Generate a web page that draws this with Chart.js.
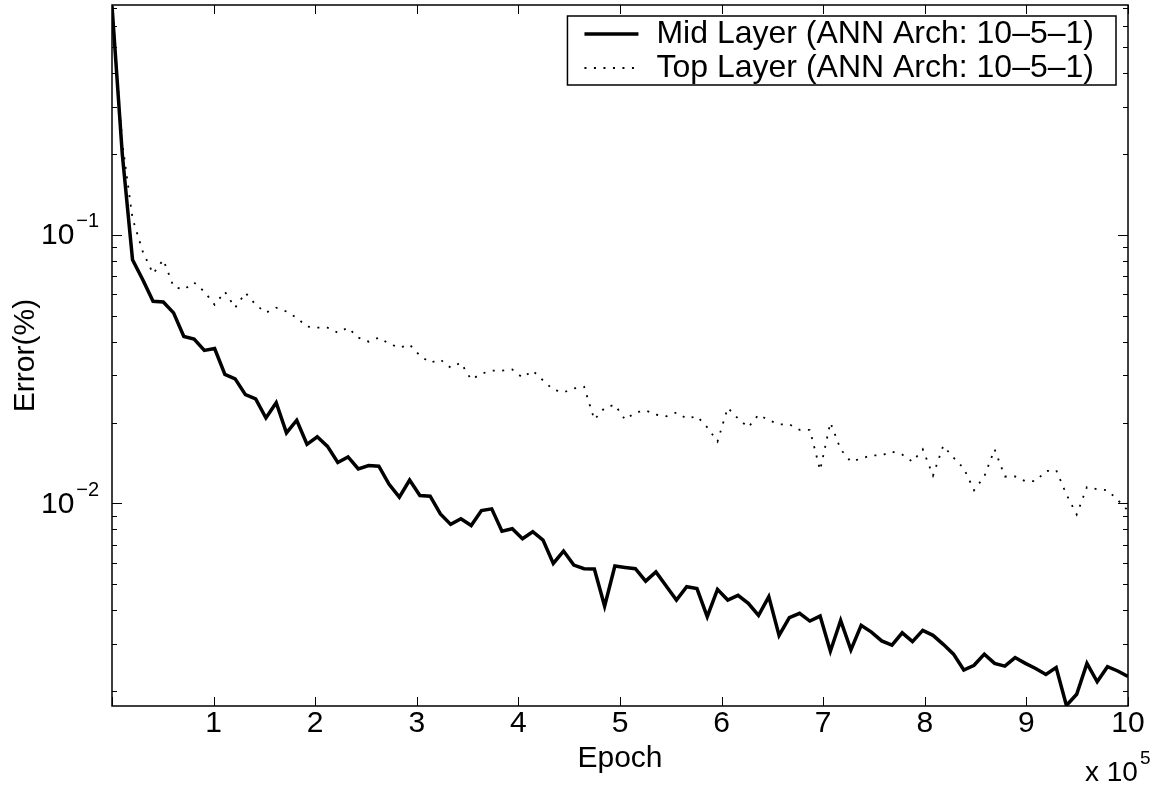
<!DOCTYPE html>
<html>
<head>
<meta charset="utf-8">
<script src="https://cdn.jsdelivr.net/npm/chart.js@4.4.0/dist/chart.umd.min.js"></script>
<style>
    html, body { margin: 0; padding: 0; background: #fff; }
</style>
</head>
<body>
<canvas id="errorChart" width="1151" height="786"></canvas>
<script>
// epochs (linspace 0 .. 1e6, 100 samples)
var epochs = [0, 10101, 20202, 30303, 40404, 50505, 60606, 70707, 80808, 90909,
    101010, 111111, 121212, 131313, 141414, 151515, 161616, 171717, 181818, 191919,
    202020, 212121, 222222, 232323, 242424, 252525, 262626, 272727, 282828, 292929,
    303030, 313131, 323232, 333333, 343434, 353535, 363636, 373737, 383838, 393939,
    404040, 414141, 424242, 434343, 444444, 454545, 464646, 474747, 484848, 494949,
    505051, 515152, 525253, 535354, 545455, 555556, 565657, 575758, 585859, 595960,
    606061, 616162, 626263, 636364, 646465, 656566, 666667, 676768, 686869, 696970,
    707071, 717172, 727273, 737374, 747475, 757576, 767677, 777778, 787879, 797980,
    808081, 818182, 828283, 838384, 848485, 858586, 868687, 878788, 888889, 898990,
    909091, 919192, 929293, 939394, 949495, 959596, 969697, 979798, 989899, 1000000];

var midLayerError = [0.71, 0.2, 0.0807, 0.068, 0.0565, 0.0562, 0.0512, 0.0418, 0.0409, 0.0371,
    0.0377, 0.0302, 0.0291, 0.0254, 0.0245, 0.0208, 0.0237, 0.0183, 0.0204, 0.0166,
    0.0177, 0.0163, 0.0142, 0.0149, 0.01345, 0.01384, 0.01376, 0.01178, 0.01055, 0.01222,
    0.01071, 0.01064, 0.00914, 0.00836, 0.00877, 0.00828, 0.00941, 0.00955, 0.00789, 0.00805,
    0.00739, 0.00785, 0.00731, 0.00598, 0.00665, 0.0059, 0.00572, 0.0057, 0.00415, 0.00585,
    0.00578, 0.00572, 0.00514, 0.00556, 0.00493, 0.00437, 0.0049, 0.00482, 0.00379, 0.00479,
    0.00437, 0.00455, 0.00425, 0.00383, 0.0045, 0.00323, 0.00376, 0.0039, 0.00365, 0.00381,
    0.00282, 0.00367, 0.00285, 0.00352, 0.00332, 0.00308, 0.00297, 0.0033, 0.00306, 0.00337,
    0.00323, 0.00299, 0.00275, 0.0024, 0.0025, 0.00275, 0.00254, 0.00248, 0.00267, 0.00254,
    0.00243, 0.00231, 0.00245, 0.00177, 0.00195, 0.00254, 0.00217, 0.00247, 0.00238, 0.00227];

var topLayerError = [0.71, 0.22, 0.115, 0.0865, 0.0716, 0.0807, 0.0641, 0.0625, 0.0664, 0.0614,
    0.0549, 0.0614, 0.0535, 0.0608, 0.0549, 0.0513, 0.0535, 0.0518, 0.0491, 0.0455,
    0.0451, 0.0451, 0.0432, 0.0451, 0.0414, 0.04, 0.0414, 0.0393, 0.038, 0.039,
    0.0355, 0.0334, 0.0343, 0.032, 0.0334, 0.0289, 0.0304, 0.0312, 0.0312, 0.0315,
    0.0294, 0.0312, 0.0287, 0.0265, 0.0259, 0.0268, 0.0272, 0.0205, 0.0227, 0.0233,
    0.0205, 0.0218, 0.0222, 0.0214, 0.0211, 0.0218, 0.0207, 0.0211, 0.0192, 0.017,
    0.0227, 0.0207, 0.0192, 0.0214, 0.0204, 0.0197, 0.0197, 0.0188, 0.0188, 0.0133,
    0.02, 0.0159, 0.0143, 0.0147, 0.0151, 0.0151, 0.0156, 0.0152, 0.0143, 0.0159,
    0.0127, 0.0164, 0.0148, 0.0135, 0.0112, 0.0126, 0.0159, 0.0126, 0.0126, 0.0121,
    0.0121, 0.0132, 0.0133, 0.0108, 0.0091, 0.0115, 0.0113, 0.0112, 0.0103, 0.0094];

var seriesLabels = ['Mid Layer (ANN Arch: 10\u20135\u20131)', 'Top Layer (ANN Arch: 10\u20135\u20131)'];
var xTickLabels = ['', '1', '2', '3', '4', '5', '6', '7', '8', '9', '10'];
var yTickValues = [0.002, 0.003, 0.004, 0.005, 0.006, 0.007, 0.008, 0.009,
    0.01, 0.02, 0.03, 0.04, 0.05, 0.06, 0.07, 0.08, 0.09,
    0.1, 0.2, 0.3, 0.4, 0.5, 0.6, 0.7];
var yMajorTicks = [0.01, 0.1];
var yMajorExponents = ['\u22122', '\u22121'];

var FONT = '"Liberation Sans", Arial, Helvetica, sans-serif';

function toPoints(values) {
    return values.map(function (v, i) {
        return { x: epochs[i], y: v };
    });
}

function strokeLine(ctx, x1, y1, x2, y2) {
    ctx.beginPath();
    ctx.moveTo(x1, y1);
    ctx.lineTo(x2, y2);
    ctx.stroke();
}

// MATLAB style box, inward ticks, superscript labels and boxed legend
var matlabAxes = {
    id: 'matlabAxes',
    afterDraw: function (chart) {
        var ctx = chart.ctx;
        var a = chart.chartArea;
        var xs = chart.scales.x;
        var ys = chart.scales.y;

        ctx.save();
        ctx.strokeStyle = '#000';
        ctx.lineWidth = 1;

        xs.ticks.forEach(function (t) {
            var px = Math.round(xs.getPixelForValue(t.value)) + 0.5;
            strokeLine(ctx, px, a.bottom, px, a.bottom - 9);
            strokeLine(ctx, px, a.top, px, a.top + 9);
        });

        ys.ticks.forEach(function (t) {
            var len = yMajorTicks.indexOf(t.value) >= 0 ? 10 : 5;
            var py = Math.round(ys.getPixelForValue(t.value)) + 0.5;
            strokeLine(ctx, a.left, py, a.left + len, py);
            strokeLine(ctx, a.right, py, a.right - len, py);
        });

        ctx.lineWidth = 1.5;
        ctx.strokeRect(a.left, a.top, a.right - a.left, a.bottom - a.top);

        // y labels 10^-2, 10^-1
        ctx.fillStyle = '#000';
        ctx.textAlign = 'left';
        ctx.textBaseline = 'middle';
        yMajorTicks.forEach(function (v, i) {
            var py = ys.getPixelForValue(v);
            ctx.font = '30px ' + FONT;
            ctx.fillText('10', 41, py + 1);
            var w = ctx.measureText('10').width;
            ctx.font = '20px ' + FONT;
            ctx.fillText(yMajorExponents[i], 41 + w + 2, py - 13);
        });

        // x multiplier
        ctx.font = '28px ' + FONT;
        ctx.fillText('x 10', 1085, 773);
        var mw = ctx.measureText('x 10').width;
        ctx.font = '19px ' + FONT;
        ctx.fillText('5', 1085 + mw + 2, 759);

        // legend
        ctx.font = '32px ' + FONT;
        var textW = 0;
        chart.data.datasets.forEach(function (ds) {
            textW = Math.max(textW, ctx.measureText(ds.label).width);
        });
        var boxW = 17 + 54 + 18 + textW + 22;
        var boxRight = a.right - 12;
        var boxLeft = boxRight - boxW;
        var boxTop = a.top + 11;
        ctx.fillStyle = '#fff';
        ctx.fillRect(boxLeft, boxTop, boxW, 69);
        ctx.strokeStyle = '#000';
        ctx.lineWidth = 1.5;
        ctx.strokeRect(boxLeft, boxTop, boxW, 69);
        chart.data.datasets.forEach(function (ds, i) {
            var cy = boxTop + 18 + i * 34;
            ctx.save();
            ctx.lineWidth = ds.borderWidth;
            ctx.setLineDash(ds.borderDash || []);
            strokeLine(ctx, boxLeft + 17, cy, boxLeft + 71, cy);
            ctx.restore();
            ctx.fillStyle = '#000';
            ctx.fillText(ds.label, boxLeft + 89, cy);
        });
        ctx.restore();
    }
};

new Chart(document.getElementById('errorChart').getContext('2d'), {
    type: 'line',
    data: {
        datasets: [{
            label: seriesLabels[0],
            data: toPoints(midLayerError),
            borderColor: '#000',
            borderWidth: 3.5,
            pointRadius: 0,
            tension: 0,
            fill: false
        }, {
            label: seriesLabels[1],
            data: toPoints(topLayerError),
            borderColor: '#000',
            borderWidth: 1.8,
            borderDash: [2, 7.5],
            pointRadius: 0,
            tension: 0,
            fill: false
        }]
    },
    options: {
        responsive: false,
        animation: false,
        devicePixelRatio: 1,
        layout: {
            padding: { top: 5, right: 23, left: 0, bottom: 0 }
        },
        plugins: {
            legend: { display: false },
            tooltip: { enabled: false }
        },
        scales: {
            x: {
                type: 'linear',
                min: 0,
                max: 1000000,
                grid: { display: false },
                border: { display: false },
                ticks: {
                    stepSize: 100000,
                    autoSkip: false,
                    maxRotation: 0,
                    padding: -8,
                    color: '#000',
                    font: { family: FONT, size: 30 },
                    callback: function (value, index) {
                        return xTickLabels[index];
                    }
                },
                title: {
                    display: true,
                    text: 'Epoch',
                    color: '#000',
                    font: { family: FONT, size: 30 },
                    padding: { top: 0, bottom: 9 }
                },
                afterFit: function (scale) {
                    scale.height = 80;
                }
            },
            y: {
                type: 'logarithmic',
                min: 0.001763,
                max: 0.716,
                grid: { display: false },
                border: { display: false },
                ticks: { display: false },
                afterBuildTicks: function (scale) {
                    scale.ticks = yTickValues.map(function (v) {
                        return { value: v };
                    });
                },
                title: {
                    display: true,
                    text: 'Error(%)',
                    color: '#000',
                    font: { family: FONT, size: 30 },
                    padding: { top: 8, bottom: 0 }
                },
                afterFit: function (scale) {
                    scale.width = 112;
                }
            }
        }
    },
    plugins: [matlabAxes]
});
</script>
</body>
</html>
